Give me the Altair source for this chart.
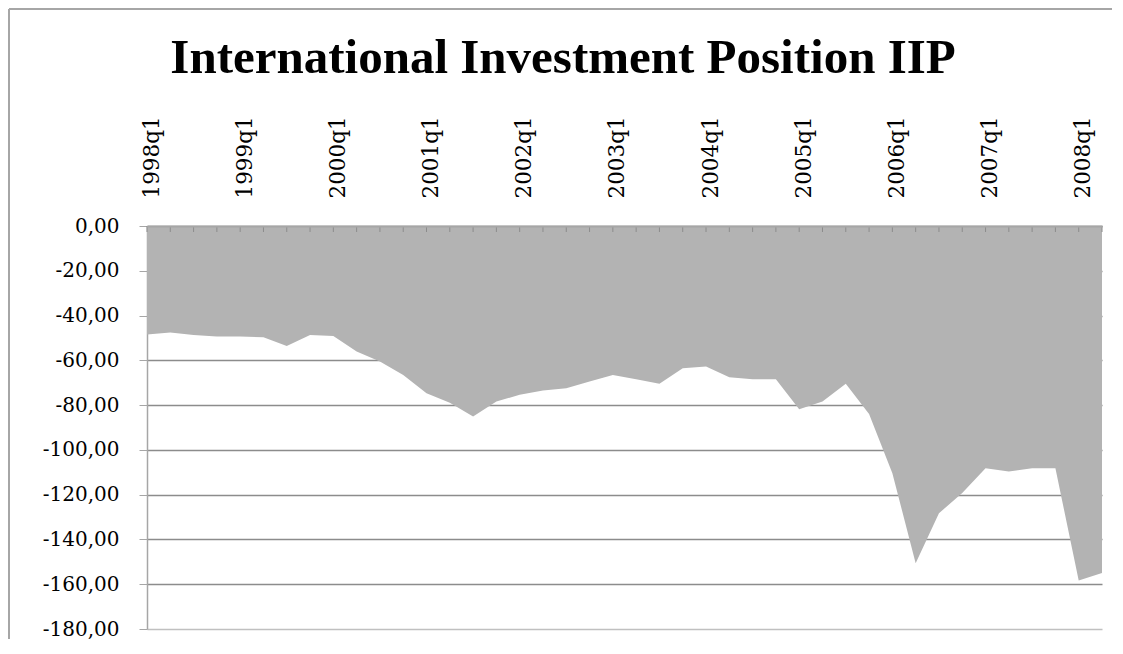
import altair as alt
import pandas as pd

years = list(range(1998, 2009))
quarters = [f"{y}q{q}" for y in years for q in (1, 2, 3, 4)][:42]
values = [-48.5, -47.6, -48.7, -49.4, -49.4, -49.7, -53.6, -48.7,
          -49.1, -56.0, -60.5, -66.5, -74.7, -79.0, -85.1, -78.4,
          -75.4, -73.5, -72.5, -69.5, -66.5, -68.5, -70.5, -63.5,
          -62.8, -67.6, -68.5, -68.5, -81.8, -78.4, -70.5, -84.0,
          -110.4, -150.6, -128.3, -119.3, -108.2, -109.7, -108.2, -108.2,
          -158.3, -155.0]
y_ticks = [0, -20, -40, -60, -80, -100, -120, -140, -160, -180]
label_quarters = [q for q in quarters if q.endswith("q1")]
title_text = ["International Investment Position IIP"]

df = pd.DataFrame({"quarter": quarters, "iip": values})
tdf = pd.DataFrame({"t": title_text})

xscale = alt.Scale(type="point", padding=0)
xaxis = alt.Axis(orient="top", values=label_quarters, labelAngle=-90,
                 labelAlign="left", labelBaseline="middle",
                 ticks=False, domainColor="#a6a6a6", domainWidth=2,
                 labelFont="DejaVu Serif", labelFontSize=21.5,
                 labelColor="black", labelPadding=28, title=None,
                 grid=False, zindex=1, labelOffset=5, labelOverlap=False)

area = alt.Chart(df).mark_area(color="#b3b3b3", opacity=1).encode(
    x=alt.X("quarter:O", sort=quarters, scale=xscale, axis=xaxis),
    y=alt.Y("iip:Q", scale=alt.Scale(domain=[-180, 0], nice=False, zero=False),
            axis=alt.Axis(values=y_ticks,
                          labelExpr="(datum.value < 0 ? '-' : '') + replace(format(abs(datum.value), '.2f'), '.', ',')",
                          tickSize=8, tickColor="#a6a6a6", domainColor="#a6a6a6",
                          domainWidth=1.5,
                          gridColor=alt.condition("datum.value == -180", alt.value("#c0c0c0"), alt.value("#8c8c8c")),
                          gridWidth=1.5,
                          labelFont="DejaVu Serif", labelFontSize=20,
                          labelPadding=20, title=None, labelColor="black")),
)

ticks = alt.Chart(df).mark_rule(color="#8c8c8c", strokeWidth=1).encode(
    x=alt.X("quarter:O", sort=quarters, scale=xscale, axis=xaxis),
    y=alt.value(0), y2=alt.value(6),
)

title = alt.Chart(tdf).mark_text(font="Liberation Serif", fontSize=49, fontWeight="bold",
                                 align="center", baseline="alphabetic", color="black").encode(
    text="t:N", x=alt.value(416), y=alt.value(-153),
)

frame_left = alt.Chart(tdf).mark_rule(color="#a6a6a6", strokeWidth=2).encode(
    x=alt.value(-138), y=alt.value(-217), y2=alt.value(440),
)
frame_top = alt.Chart(tdf).mark_rule(color="#a6a6a6", strokeWidth=2).encode(
    x=alt.value(-138), x2=alt.value(975), y=alt.value(-217),
)

chart = alt.layer(area, ticks, title, frame_left, frame_top).properties(
    width=955, height=403,
    autosize=alt.AutoSizeParams(type="none"),
    padding={"left": 139, "top": 218, "right": 10, "bottom": 10},
).configure_view(stroke=None)

chart.save("out.html", embed_options={"renderer": "svg", "actions": False})
